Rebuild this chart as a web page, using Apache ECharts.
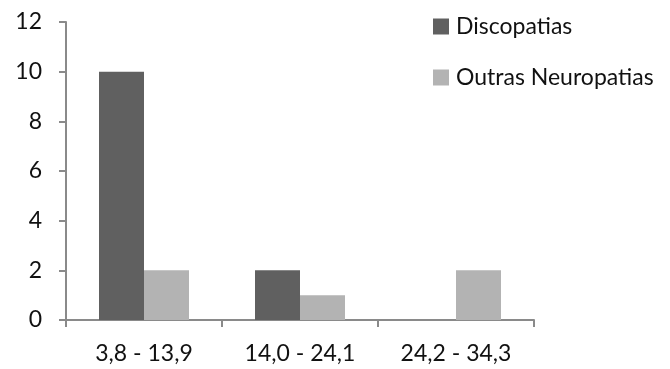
<!DOCTYPE html>
<html><head><meta charset="utf-8">
<script src="https://cdn.jsdelivr.net/npm/echarts@6/dist/echarts.min.js"></script>
<style>html,body{margin:0;padding:0;background:#fff}#c{width:670px;height:369px}</style>
</head><body><div id="c"></div>
<script>
var categories = ['3,8 - 13,9', '14,0 - 24,1', '24,2 - 34,3'];
var discopatias = [10, 2, 0];
var outras = [2, 1, 2];
var yTicks = {min: 0, max: 12, interval: 2};
var font = 'Lato, "Open Sans", sans-serif';
var chart = echarts.init(document.getElementById('c'));
chart.setOption({
  animation: false,
  backgroundColor: '#fff',
  grid: {left: 66, right: 136, top: 22, bottom: 49, containLabel: false},
  legend: {
    orient: 'vertical', left: 428, top: 10, itemWidth: 16, itemHeight: 16, itemGap: 28,
    icon: 'rect',
    textStyle: {fontFamily: font, fontSize: 23, color: '#111', padding: [0, 0, 0, 2]},
    data: ['Discopatias', 'Outras Neuropatias']
  },
  xAxis: {
    type: 'category', data: categories,
    axisLine: {lineStyle: {color: '#8a8a8a', width: 2}},
    axisTick: {show: true, length: 7, lineStyle: {color: '#8a8a8a', width: 2}},
    axisLabel: {fontFamily: font, fontSize: 23, color: '#111', margin: 22}
  },
  yAxis: {
    type: 'value', min: yTicks.min, max: yTicks.max, interval: yTicks.interval,
    axisLine: {show: true, lineStyle: {color: '#8a8a8a', width: 2}},
    axisTick: {show: true, length: 7, lineStyle: {color: '#8a8a8a', width: 2}},
    splitLine: {show: false},
    axisLabel: {fontFamily: font, fontSize: 23, color: '#111', margin: 24}
  },
  series: [
    {name: 'Discopatias', type: 'bar', data: discopatias, barWidth: 45, barGap: '0%', itemStyle: {color: '#606060'}},
    {name: 'Outras Neuropatias', type: 'bar', data: outras, barWidth: 45, itemStyle: {color: '#b3b3b3'}}
  ]
});
</script></body></html>
